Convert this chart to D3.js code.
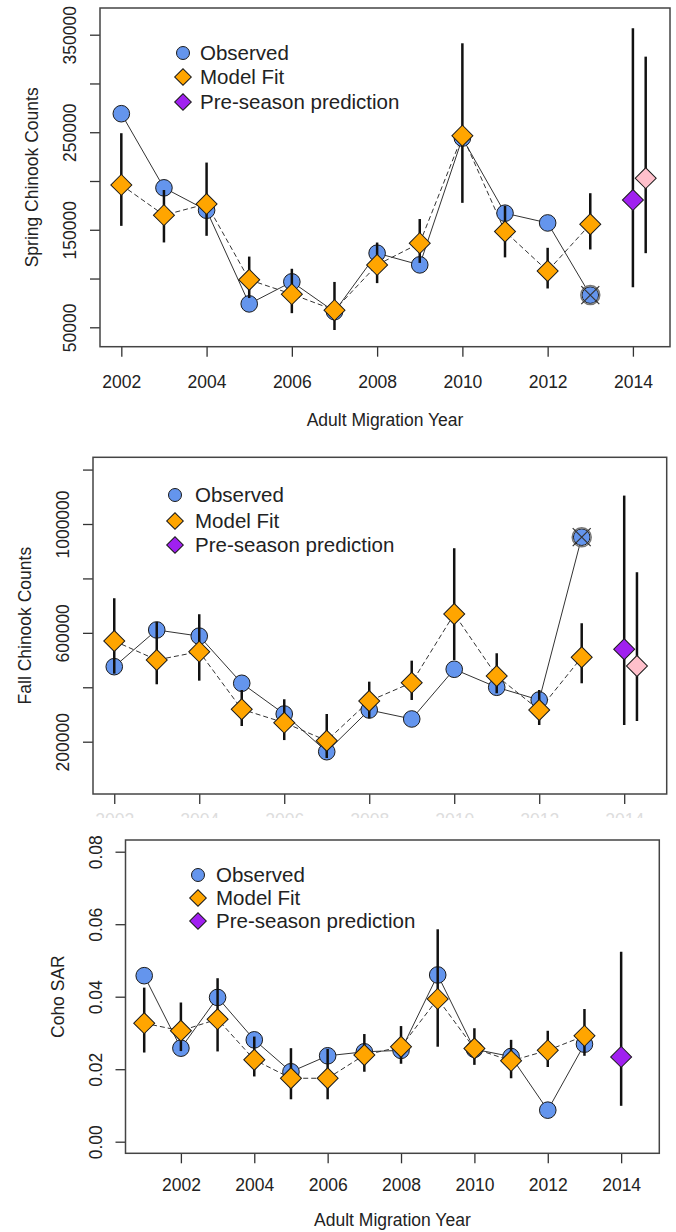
<!DOCTYPE html>
<html>
<head>
<meta charset="utf-8">
<script src="https://cdn.jsdelivr.net/npm/d3@7"></script>
<style>
    body { margin: 0; background: #fff; }
    svg text { font-family: "Liberation Sans", Arial, sans-serif; fill: #222; }
</style>
</head>
<body>
<svg id="chart" width="676" height="1232"></svg>
<script>
//Spring Chinook counts
const springYears    = [2002, 2003, 2004, 2005, 2006, 2007, 2008, 2009, 2010, 2011, 2012, 2013];
const springObserved = [269000, 193000, 170000, 74000, 96600, 66000, 126000, 114000, 244000, 167000, 157000, 83000];
const springFit      = [196000, 165000, 176500, 98700, 84000, 67600, 114000, 136300, 246500, 148200, 107700, 155700];
const springFitLo    = [154000, 137000, 143800, 80000, 64500, 47200, 95300, 116000, 177600, 121700, 89800, 129800];
const springFitHi    = [249000, 190800, 218900, 122500, 110000, 96500, 136900, 161000, 341200, 174500, 131500, 187500];
const springExcluded = [2013];
const springPredYears = [2014, 2014.3];
const springPred      = [180600, 202900];
const springPredLo    = [91000, 126000];
const springPredHi    = [356500, 327500];
const springYTicks    = [50000, 100000, 150000, 200000, 250000, 300000, 350000];
const springYLabels   = [50000, 150000, 250000, 350000];

//Fall Chinook counts
const fallYears    = [2002, 2003, 2004, 2005, 2006, 2007, 2008, 2009, 2010, 2011, 2012, 2013];
const fallObserved = [475700, 610700, 588000, 414700, 301800, 163200, 316500, 283500, 466200, 400000, 353300, 951500];
const fallFit      = [570000, 500400, 530900, 319100, 269900, 203700, 349600, 416900, 669500, 441500, 316500, 510300];
const fallFitLo    = [450000, 411000, 424300, 257700, 206000, 140000, 286000, 353300, 500000, 378000, 261400, 414700];
const fallFitHi    = [727200, 640000, 668400, 390000, 355900, 301800, 420600, 497800, 911000, 525000, 390000, 635300];
const fallExcluded = [2013];
const fallPredYears = [2014, 2014.3];
const fallPred      = [539700, 478300];
const fallPredLo    = [261400, 276100];
const fallPredHi    = [1104400, 822800];
const fallYTicks    = [200000, 400000, 600000, 800000, 1000000, 1200000];
const fallYLabels   = [200000, 600000, 1000000];

//Coho SAR
const cohoYears    = [2001, 2002, 2003, 2004, 2005, 2006, 2007, 2008, 2009, 2010, 2011, 2012, 2013];
const cohoObserved = [0.0458, 0.0258, 0.0398, 0.0281, 0.0193, 0.0237, 0.0248, 0.0252, 0.0460, 0.0255, 0.0235, 0.0087, 0.0269];
const cohoFit      = [0.0327, 0.0306, 0.0338, 0.0226, 0.0175, 0.0175, 0.0239, 0.0262, 0.0394, 0.0257, 0.0223, 0.0252, 0.0292];
const cohoFitLo    = [0.0246, 0.0250, 0.0249, 0.0180, 0.0117, 0.0117, 0.0193, 0.0215, 0.0262, 0.0212, 0.0175, 0.0206, 0.0237];
const cohoFitHi    = [0.0425, 0.0384, 0.0451, 0.0290, 0.0258, 0.0256, 0.0297, 0.0319, 0.0586, 0.0313, 0.0281, 0.0306, 0.0366];
const cohoExcluded = [];
const cohoPredYears = [2014];
const cohoPred      = [0.0234];
const cohoPredLo    = [0.0099];
const cohoPredHi    = [0.0524];
const cohoYTicks    = [0, 0.02, 0.04, 0.06, 0.08];
const cohoYLabels   = [0, 0.02, 0.04, 0.06, 0.08];

const xTicks = [2002, 2004, 2006, 2008, 2010, 2012, 2014];
const legendLabels = ['Observed', 'Model Fit', 'Pre-season prediction'];

const colors = { obs: '#6495ED', fit: '#FFA500', pred: '#A020F0', pred2: '#FFC0CB' };
const font = 17.5;

const svg = d3.select('#chart');
//the middle panel's year labels are mostly hidden under the lower panel
svg.append('defs').append('clipPath').attr('id', 'cut2')
    .append('rect').attr('x', 0).attr('y', 0).attr('width', 676).attr('height', 818);

const diamond = d3.symbol().type(d3.symbolSquare);

function drawPanel(p) {
    let box = p.box;
    let x = d3.scaleLinear().domain(p.xDomain).range([box.x0, box.x1]);
    let y = d3.scaleLinear().domain(p.yDomain).range([box.y1, box.y0]);
    let g = svg.append('g');

    //x axis
    let xwrap = g.append('g');
    if (p.fadeX) xwrap.attr('clip-path', 'url(#cut2)');
    let xa = xwrap.append('g')
        .attr('transform', `translate(0,${box.y1})`)
        .call(d3.axisBottom(x).tickValues(xTicks).tickSize(10).tickFormat(d3.format('d')))
        .call(a => a.select('.domain').remove());
    xa.selectAll('line').attr('stroke', '#333').attr('stroke-width', 1.3);
    xa.selectAll('text')
        .attr('y', p.xLabelOff).attr('dy', '0.35em')
        .attr('font-size', font).attr('font-family', null)
        .style('fill', p.fadeX ? '#dddddd' : '#222');

    if (p.xTitle) {
        g.append('text')
            .attr('x', (box.x0 + box.x1) / 2).attr('y', box.y1 + p.xTitleOff)
            .attr('dy', '0.35em').attr('text-anchor', 'middle')
            .attr('font-size', font).text(p.xTitle);
    }

    //y axis
    let ya = g.append('g')
        .attr('transform', `translate(${box.x0},0)`)
        .call(d3.axisLeft(y).tickValues(p.yTicks).tickSize(10)
            .tickFormat(d => p.yLabels.includes(d) ? p.fmt(d) : ''))
        .call(a => a.select('.domain').remove());
    ya.selectAll('line').attr('stroke', '#333').attr('stroke-width', 1.3);
    ya.selectAll('text')
        .attr('x', null).attr('dy', null)
        .attr('transform', 'translate(-30,0) rotate(-90)')
        .attr('text-anchor', 'middle').attr('dy', '0.35em')
        .attr('font-size', font).attr('font-family', null);

    g.append('text')
        .attr('transform', `translate(${box.x0 - 68},${(box.y0 + box.y1) / 2}) rotate(-90)`)
        .attr('text-anchor', 'middle').attr('dy', '0.35em')
        .attr('font-size', font).text(p.yTitle);

    //box
    g.append('rect')
        .attr('x', box.x0).attr('y', box.y0)
        .attr('width', box.x1 - box.x0).attr('height', box.y1 - box.y0)
        .attr('fill', 'none').attr('stroke', '#444').attr('stroke-width', 1.5);

    let obs  = p.years.map((yr, i) => ({ yr, v: p.observed[i] }));
    let fit  = p.years.map((yr, i) => ({ yr, v: p.fit[i], lo: p.lo[i], hi: p.hi[i] }));
    let pred = p.predYears.map((yr, i) => ({ yr, v: p.pred[i], lo: p.predLo[i], hi: p.predHi[i], c: i == 0 ? colors.pred : colors.pred2 }));

    let line = d3.line().x(d => x(d.yr)).y(d => y(d.v));

    g.append('path').datum(obs).attr('d', line)
        .attr('fill', 'none').attr('stroke', '#333').attr('stroke-width', 1);
    g.append('path').datum(fit).attr('d', line)
        .attr('fill', 'none').attr('stroke', '#333').attr('stroke-width', 1)
        .attr('stroke-dasharray', '5,3');

    g.selectAll('circle.obs').data(obs).join('circle')
        .attr('class', 'obs')
        .attr('cx', d => x(d.yr)).attr('cy', d => y(d.v)).attr('r', 8.3)
        .attr('fill', colors.obs).attr('stroke', '#1a1a1a').attr('stroke-width', 1);

    //excluded observations
    let ex = g.selectAll('g.ex').data(obs.filter(d => p.excluded.includes(d.yr))).join('g')
        .attr('class', 'ex')
        .attr('transform', d => `translate(${x(d.yr)},${y(d.v)})`);
    ex.append('circle').attr('r', 9.5).attr('fill', 'none').attr('stroke', '#777').attr('stroke-width', 1.5);
    ex.append('path').attr('d', 'M-9,-9L9,9M-9,9L9,-9').attr('stroke', '#333').attr('stroke-width', 1.2);

    //credible intervals
    g.selectAll('line.ci').data(fit.concat(pred)).join('line')
        .attr('class', 'ci')
        .attr('x1', d => x(d.yr)).attr('x2', d => x(d.yr))
        .attr('y1', d => y(d.lo)).attr('y2', d => y(d.hi))
        .attr('stroke', '#111').attr('stroke-width', 2.5);

    g.selectAll('path.fit').data(fit).join('path')
        .attr('class', 'fit')
        .attr('d', diamond.size(220)())
        .attr('transform', d => `translate(${x(d.yr)},${y(d.v)}) rotate(45)`)
        .attr('fill', colors.fit).attr('stroke', '#1a1a1a').attr('stroke-width', 1);

    g.selectAll('path.pred').data(pred).join('path')
        .attr('class', 'pred')
        .attr('d', diamond.size(220)())
        .attr('transform', d => `translate(${x(d.yr)},${y(d.v)}) rotate(45)`)
        .attr('fill', d => d.c).attr('stroke', '#1a1a1a').attr('stroke-width', 1);

    //legend
    let lg = g.append('g');
    let lgFill = [colors.obs, colors.fit, colors.pred];
    legendLabels.forEach((lab, i) => {
        let ly = p.legend.rows[i];
        if (i == 0) {
            lg.append('circle').attr('cx', p.legend.x).attr('cy', ly).attr('r', 6.5)
                .attr('fill', lgFill[i]).attr('stroke', '#1a1a1a').attr('stroke-width', 1);
        } else {
            lg.append('path').attr('d', diamond.size(138)())
                .attr('transform', `translate(${p.legend.x},${ly}) rotate(45)`)
                .attr('fill', lgFill[i]).attr('stroke', '#1a1a1a').attr('stroke-width', 1);
        }
        lg.append('text').attr('x', p.legend.tx).attr('y', ly).attr('dy', '0.35em')
            .attr('font-size', 20.5).text(lab);
    });
}

drawPanel({
    box: { x0: 100, x1: 670, y0: 8, y1: 346.7 },
    xDomain: [2001.5, 2014.87], yDomain: [30109, 377375],
    years: springYears, observed: springObserved, fit: springFit, lo: springFitLo, hi: springFitHi,
    excluded: springExcluded,
    predYears: springPredYears, pred: springPred, predLo: springPredLo, predHi: springPredHi,
    yTicks: springYTicks, yLabels: springYLabels, fmt: d3.format('d'),
    yTitle: 'Spring Chinook Counts', xTitle: 'Adult Migration Year',
    xLabelOff: 35, xTitleOff: 73,
    legend: { x: 183, tx: 200, rows: [53, 77, 102] }
});

drawPanel({
    box: { x0: 93, x1: 666.7, y0: 457.3, y1: 794 },
    xDomain: [2001.5, 2015.0], yDomain: [7809, 1245108],
    years: fallYears, observed: fallObserved, fit: fallFit, lo: fallFitLo, hi: fallFitHi,
    excluded: fallExcluded,
    predYears: fallPredYears, pred: fallPred, predLo: fallPredLo, predHi: fallPredHi,
    yTicks: fallYTicks, yLabels: fallYLabels, fmt: d3.format('d'),
    yTitle: 'Fall Chinook Counts', xTitle: null, fadeX: true,
    xLabelOff: 26, xTitleOff: 70,
    legend: { x: 175, tx: 195, rows: [495, 521, 545] }
});

drawPanel({
    box: { x0: 125.5, x1: 659.3, y0: 840, y1: 1153.3 },
    xDomain: [2000.49, 2015.04], yDomain: [-0.0032, 0.08323],
    years: cohoYears, observed: cohoObserved, fit: cohoFit, lo: cohoFitLo, hi: cohoFitHi,
    excluded: cohoExcluded,
    predYears: cohoPredYears, pred: cohoPred, predLo: cohoPredLo, predHi: cohoPredHi,
    yTicks: cohoYTicks, yLabels: cohoYLabels, fmt: d3.format('.2f'),
    yTitle: 'Coho SAR', xTitle: 'Adult Migration Year',
    xLabelOff: 32, xTitleOff: 67,
    legend: { x: 198, tx: 216, rows: [875, 898, 921] }
});
</script>
</body>
</html>
